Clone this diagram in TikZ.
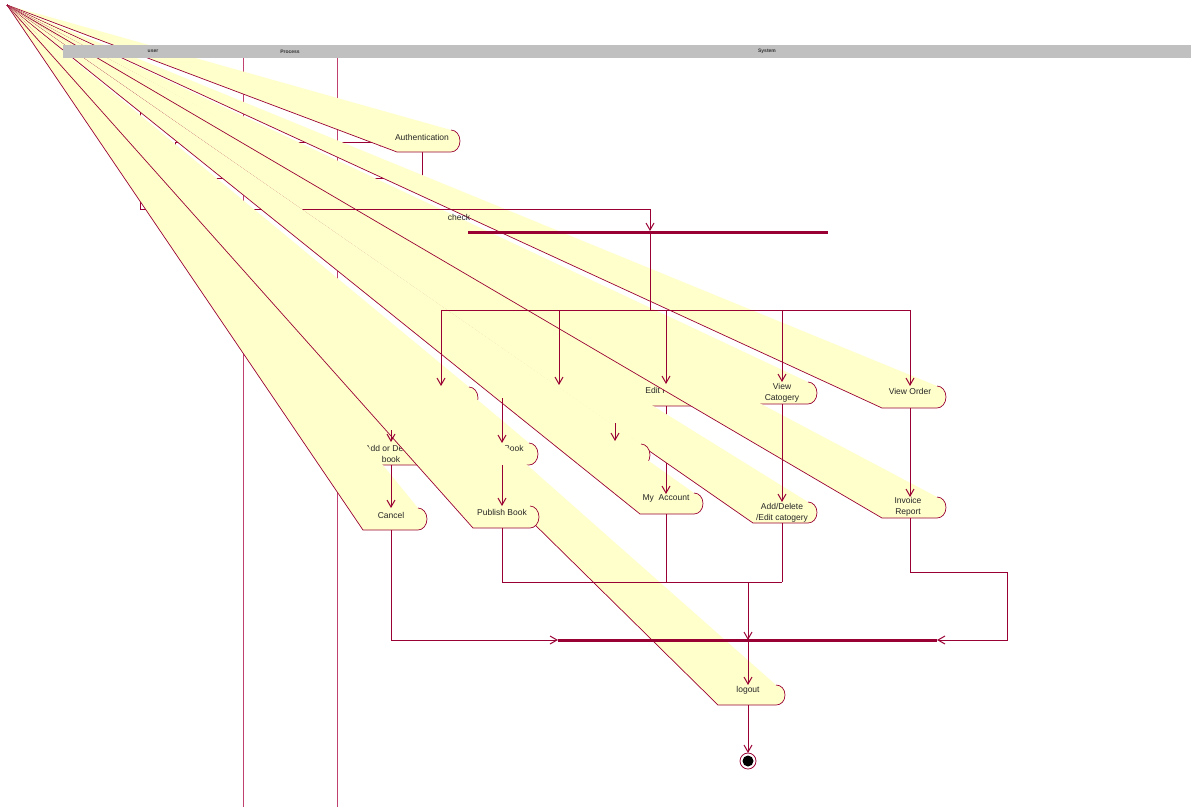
\documentclass[tikz,border=0pt]{standalone}
\usepackage{fontspec}
\setmainfont{Liberation Sans}
\usetikzlibrary{arrows.meta}
\definecolor{rred}{HTML}{990033}
\definecolor{ryel}{HTML}{FFFFCC}
\definecolor{lanegray}{HTML}{C0C0C0}
\definecolor{lanered}{HTML}{C04070}
\tikzset{
  bandline/.style={draw=rred,line width=0.7pt},
  conn/.style={draw=rred,line width=1pt},
  arr/.style={conn,-{Straight Barb[length=7pt,width=8pt]}},
  lane/.style={draw=lanered,line width=0.6pt},
  bar/.style={draw=rred,line width=3pt},
  lbl/.style={font=\fontsize{8.5}{11}\selectfont,text=black!85,inner sep=0pt,align=center},
  hdr/.style={font=\fontsize{5}{5}\selectfont\bfseries,text=black!80,inner sep=0pt}
}
% #1 bottom-left x, #2 top y, #3 bottom y, #4 right x
\newcommand\actband[4]{%
  \path[fill=ryel] (apex) -- ({#4-9},#2) .. controls ({#4-4},#2) and (#4,{(#2+#3)/2-6}) .. (#4,{(#2+#3)/2})
     .. controls (#4,{(#2+#3)/2+6}) and ({#4-4},#3) .. ({#4-9},#3) -- (#1,#3) -- cycle;
  \draw[bandline] ({#4-9},#2) .. controls ({#4-4},#2) and (#4,{(#2+#3)/2-6}) .. (#4,{(#2+#3)/2})
     .. controls (#4,{(#2+#3)/2+6}) and ({#4-4},#3) .. ({#4-9},#3) -- (#1,#3) -- (apex);
}
\begin{document}
\begin{tikzpicture}[x=1pt,y=-1pt]
\useasboundingbox (0,0) rectangle (1191,807);
\fill[white] (0,0) rectangle (1191,807);
\coordinate (apex) at (7,5);

% swimlane dividers
\coordinate (l1t) at (243,58); \coordinate (l1b) at (243,807);
\coordinate (l2t) at (337,58); \coordinate (l2b) at (337,807);
\draw[lane] (l1t) -- (l1b);
\draw[lane] (l2t) -- (l2b);

% key points
\coordinate (authL) at (388,142);
\coordinate (authB) at (422,152);
\coordinate (p1s) at (175,152);
\coordinate (p2e) at (140,178);
\coordinate (chk0) at (140,105);
\coordinate (forkT) at (650,231);

% early connectors (mostly hidden)
\draw[arr] (p1s) |- (authL);
\draw[conn] (authB) -- (422,178) -- (p2e);

% group 1 states
\actband{397}{130}{152}{460}
\node[lbl] (tauth) at (422,137) {Authentication};
\actband{882}{386}{408}{946}
\node[lbl] (tvo) at (910,391) {View Order};
\actband{753}{382}{404}{817}
\node[lbl] (tvc) at (782,392.5) {View\\Catogery};
\actband{640}{384}{406}{703}
\node[lbl] (tep) at (666,390) {Edit Profile};
\coordinate (epB) at (666,406);
\coordinate (maT) at (666,494);
\draw[arr] (epB) -- (maT);
\actband{530}{385}{407}{596}
\actband{882}{497}{518}{946}
\node[lbl] (tir) at (908,506.5) {Invoice\\Report};
\actband{753}{502}{523}{817}
\node[lbl] (tac) at (782,512.5) {Add/Delete\\/Edit catogery};

% check path
\draw[arr] (chk0) -- (140,209) -| (forkT);
\node[lbl] (tchk) at (459,217) {check};

% group 2 states
\actband{586}{444}{466}{650}
\actband{640}{493}{514}{703}
\node[lbl] (tma) at (666,498) {My\ \ Account};
\coordinate (maTail) at (666,468);
\draw[arr] (maTail) -- (maT);
\actband{412}{387}{409}{478}
\actband{473}{443}{465}{538}
\node[lbl] (tvb) at (514,448) {Book};
\actband{718}{685}{705}{785}
\node[lbl] (tlo) at (748,690) {logout};
\actband{363}{442}{465}{427}
\node[lbl] (tad) at (391,453.5) {Add or Delete\\book};
\actband{473}{506}{528}{539}
\node[lbl] (tpb) at (502,512) {Publish Book};
\actband{363}{508}{530}{427}
\node[lbl] (tca) at (391,515) {Cancel};

% late connectors
\coordinate (forkL) at (468,232); \coordinate (forkR) at (828,232);
\draw[bar] (forkL) -- (forkR);
\coordinate (fk) at (650,232);
\coordinate (hb) at (650,310);
\draw[conn] (fk) -- (hb);
\draw[conn] (441,310) -- (910,310);
\draw[arr] (441,310) -- (441,386);
\draw[arr] (559,310) -- (559,385);
\draw[arr] (666,310) -- (666,384);
\draw[arr] (782,310) -- (782,382);
\draw[arr] (910,310) -- (910,386);
\draw[arr] (502,398) -- (502,443);
\draw[arr] (391,430) -- (391,442);
\draw[arr] (615,423) -- (615,441);
\draw[arr] (782,404) -- (782,502);
\draw[arr] (910,408) -- (910,497);
\draw[arr] (502,465) -- (502,506);
\draw[arr] (391,465) -- (391,508);

\coordinate (joinL) at (558,640); \coordinate (joinR) at (937,640);
\draw[bar] (joinL) -- (joinR);
\draw[arr] (391,530) |- (joinL);
\draw[conn] (502,528) -- (502,582) -- (782,582);
\draw[conn] (782,523) -- (782,582);
\draw[conn] (666,514) -- (666,582);
\draw[arr] (748,582) -- (748,640);
\draw[arr] (910,518) -- (910,572) -- (1007,572) -- (1007,640) -- (joinR);
\coordinate (loT) at (748,685);
\draw[arr] (748,641) -- (loT);
\coordinate (fin) at (748,761);
\draw[arr] (748,705) -- (748,753);
\draw[draw=rred,line width=0.8pt,fill=white] (fin) circle[radius=8];
\fill[black] (fin) circle[radius=5.5];

% header
\fill[lanegray] (63,45) rectangle (1191,58);
\node[hdr] (huser) at (153,51.5) {user};
\node[hdr] (hproc) at (290,51.5) {Process};
\node[hdr] (hsys) at (767,51.5) {System};
\end{tikzpicture}
\end{document}
